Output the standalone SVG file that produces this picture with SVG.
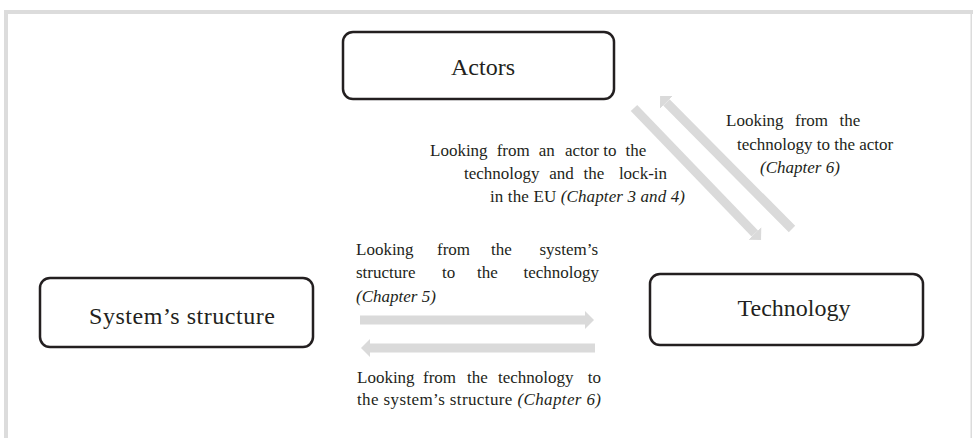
<svg xmlns="http://www.w3.org/2000/svg" width="973" height="438" viewBox="0 0 973 438">
  <style>
    .frame { fill: #dcdcdc; }
    .node rect { fill: #ffffff; stroke: #231f20; stroke-width: 2.5; }
    .node text { font-family: "Liberation Serif", "DejaVu Serif", serif; font-size: 24px; fill: #231f20; text-anchor: middle; }
    .conn { stroke: #dadada; stroke-width: 9; fill: none; marker-end: url(#head); }
    .lbl { font-family: "Liberation Serif", "DejaVu Serif", serif; font-size: 17px; fill: #231f20; }
    .it { font-style: italic; }
  </style>
  <defs>
    <marker id="head" markerUnits="userSpaceOnUse" markerWidth="12" markerHeight="20" viewBox="0 -10 12 20" refX="0" refY="0" orient="auto">
      <path d="M0,-9 L9,0 L0,9 Z" fill="#dadada"/>
    </marker>
  </defs>

  <!-- page background and frame -->
  <rect x="0" y="0" width="973" height="438" fill="#ffffff"/>
  <rect class="frame" x="4" y="10" width="969" height="4"/>
  <rect class="frame" x="4" y="10" width="4" height="428"/>
  <rect class="frame" x="970.5" y="10" width="1.5" height="428"/>

  <!-- connectors -->
  <g id="connectors">
    <line class="conn" x1="634" y1="108" x2="754.8" y2="233.5"/>
    <line class="conn" x1="792" y1="229" x2="666.4" y2="102.4"/>
    <line class="conn" x1="360" y1="320" x2="585" y2="320"/>
    <line class="conn" x1="595" y1="348" x2="370" y2="348"/>
  </g>

  <!-- nodes -->
  <g id="node-actors" class="node">
    <rect x="343" y="32" width="271" height="67" rx="10"/>
    <text x="483" y="75">Actors</text>
  </g>
  <g id="node-system" class="node">
    <rect x="40" y="278" width="273" height="69" rx="10"/>
    <text x="182" y="324" textLength="186" lengthAdjust="spacing">System’s structure</text>
  </g>
  <g id="node-technology" class="node">
    <rect x="650" y="274" width="273" height="71" rx="10"/>
    <text x="794" y="316">Technology</text>
  </g>

  <!-- connector labels -->
  <g id="labels" class="lbl">
    <text y="156"><tspan x="430">Looking</tspan><tspan x="496.7">from</tspan><tspan x="538.8">an</tspan><tspan x="564.9">actor</tspan><tspan x="603.2">to</tspan><tspan x="625.5">the</tspan></text>
    <text y="179"><tspan x="464">technology</tspan><tspan x="549.3">and</tspan><tspan x="583.6">the</tspan><tspan x="618.9">lock-in</tspan></text>
    <text x="490" y="202" textLength="195" lengthAdjust="spacing">in the EU <tspan class="it">(Chapter 3 and 4)</tspan></text>

    <text y="126"><tspan x="726">Looking</tspan><tspan x="795">from</tspan><tspan x="839.5">the</tspan></text>
    <text x="737" y="150">technology to the actor</text>
    <text x="760" y="173" class="it">(Chapter 6)</text>

    <text y="255"><tspan x="356">Looking</tspan><tspan x="437">from</tspan><tspan x="491">the</tspan><tspan x="539.5">system’s</tspan></text>
    <text y="278"><tspan x="356">structure</tspan><tspan x="442">to</tspan><tspan x="477">the</tspan><tspan x="523.5">technology</tspan></text>
    <text x="356" y="302" class="it">(Chapter 5)</text>

    <text y="383"><tspan x="357">Looking</tspan><tspan x="423">from</tspan><tspan x="467">the</tspan><tspan x="498">technology</tspan><tspan x="587.8">to</tspan></text>
    <text x="357" y="405" textLength="244" lengthAdjust="spacing">the system’s structure <tspan class="it">(Chapter 6)</tspan></text>
  </g>
</svg>
